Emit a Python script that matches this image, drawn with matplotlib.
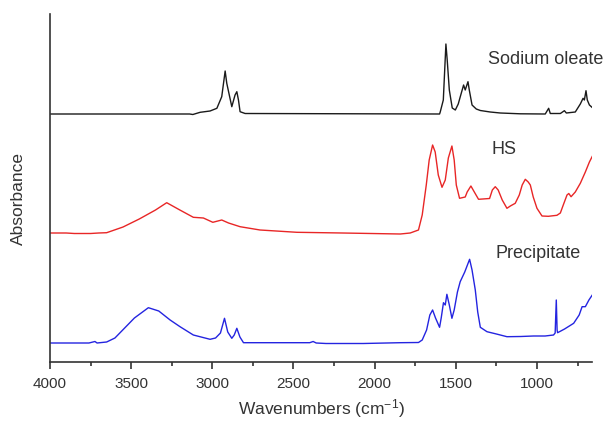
import matplotlib
matplotlib.use("Agg")
import matplotlib.pyplot as plt
from matplotlib.ticker import MultipleLocator

plt.rcParams['font.family'] = ['Liberation Sans', 'DejaVu Sans']
plt.rcParams['mathtext.fontset'] = 'custom'
plt.rcParams['mathtext.rm'] = 'Liberation Sans'
plt.rcParams['mathtext.it'] = 'Liberation Sans:italic'

# ---- data (relative absorbance, arbitrary units) ----
wn_oleate = [4000, 3140, 3120, 3075, 3014, 2972, 2942, 2921, 2911, 2880, 2860, 2849, 2839, 2829, 2798,
             1600, 1596, 1577, 1561, 1553, 1540, 1522, 1503, 1485, 1473, 1452, 1442, 1425, 1417, 1400,
             1374, 1349, 1288, 1226, 1103, 949, 928, 918, 856, 831, 819, 764, 733, 716, 708, 698, 690, 677, 661]
abs_oleate = [0, 0, -0.5, 1.7, 3, 5.7, 17.3, 43, 30.7, 7.3, 19, 22.3, 14, 2.3, 0.5,
              0, 2, 14, 70, 54, 24, 6, 4, 10, 17, 29, 24, 32.3, 24, 9,
              5, 3.5, 2, 1, 0.2, 0, 5.7, 0.5, 0.5, 3.3, 1, 2, 10, 15.7, 14, 23.3, 14, 9, 6.7]

wn_hs = [4000, 3900, 3850, 3750, 3700, 3651, 3550, 3450, 3350, 3281, 3200, 3117, 3055, 2997, 2942,
         2900, 2829, 2706, 2479, 2200, 1842, 1781, 1730, 1707, 1682, 1664, 1643, 1627, 1608, 1585,
         1565, 1546, 1524, 1510, 1497, 1477, 1442, 1430, 1407, 1386, 1360, 1292, 1275, 1257, 1239,
         1214, 1185, 1164, 1134, 1109, 1091, 1072, 1054, 1041, 1023, 1000, 969, 930, 877, 856, 838,
         815, 804, 790, 764, 733, 702, 677, 655]
abs_hs = [0, 0, -0.5, -0.5, 0, 0.3, 6, 14, 23, 30.3, 23, 15.7, 15, 10.7, 13,
          10, 6.3, 3, 0.7, 0, -1, 0, 3, 18, 48, 73, 88, 81, 58, 45.7,
          53, 75, 87, 73, 48, 34.7, 36, 41, 47, 41, 33.7, 34.5, 43, 46.3, 43,
          33, 24.7, 27, 29.7, 38, 48, 53.7, 51, 48, 36, 24.7, 17, 16.7, 17.7, 20, 28,
          38, 39.5, 36.3, 41, 49.7, 61, 71, 78]

wn_prec = [4000, 3760, 3723, 3710, 3651, 3600, 3540, 3480, 3394, 3330, 3260, 3199, 3117, 3014, 2980,
           2950, 2925, 2905, 2880, 2865, 2849, 2830, 2808, 2400, 2379, 2360, 2300, 2070, 1842, 1730,
           1707, 1680, 1660, 1643, 1625, 1600, 1590, 1576, 1565, 1555, 1540, 1524, 1510, 1490, 1473,
           1445, 1415, 1400, 1380, 1365, 1349, 1308, 1250, 1185, 1100, 1021, 950, 898, 888, 881, 876,
           873, 830, 774, 740, 722, 702, 680, 655]
abs_prec = [0, 0, 1.5, 0, 1, 5, 15, 25, 35.3, 32, 23, 16.3, 8, 3.7, 5,
            10, 24.7, 11, 4.7, 8, 14.7, 6, 0.3, 0.3, 1.5, 0, -0.5, -0.5, 0.3, 0.5,
            3, 13, 28, 33, 25, 15.7, 25, 40.3, 38, 48.7, 38, 24.7, 33, 51, 61.3,
            71, 83.7, 73, 53, 31, 15.7, 11.3, 9, 6.3, 6.5, 7, 7, 8, 10, 43, 13,
            10.3, 14, 19.7, 28, 36.3, 36.3, 43, 49]

labels = ["Sodium oleate", "HS", "Precipitate"]
offsets = [248, 129, 19]
colors = ["#1a1a1a", "#e82626", "#2424e0"]

fig = plt.figure(figsize=(6.11, 4.22), dpi=100)
ax = fig.add_axes([50/611, 1-362/422, 542/611, 348/422])

series = [(wn_oleate, abs_oleate), (wn_hs, abs_hs), (wn_prec, abs_prec)]
for (w, a), off, c in zip(series, offsets, colors):
    ax.plot(w, [v + off for v in a], color=c, lw=1.0)

ax.set_xlim(4000, 661)
ax.set_ylim(0, 348)
ax.spines['top'].set_visible(False)
ax.spines['right'].set_visible(False)
for s in ['left', 'bottom']:
    ax.spines[s].set_color('#333333')
    ax.spines[s].set_linewidth(1.2)
ax.set_yticks([])
ax.xaxis.set_major_locator(MultipleLocator(500))
ax.xaxis.set_minor_locator(MultipleLocator(250))
ax.tick_params(axis='x', which='major', direction='out', length=5, width=1.2,
               color='#333333', labelsize=11, labelcolor='#333333', pad=6)
ax.tick_params(axis='x', which='minor', direction='out', length=3, width=1.2, color='#333333')

ax.set_xlabel("Wavenumbers (cm$^{-1}$)", fontsize=12.5, color='#333333', labelpad=4)
ax.set_ylabel("Absorbance", fontsize=12.5, color='#333333')
ax.yaxis.set_label_coords(-0.045, 0.47)

ax.text(1300, 303, labels[0], fontsize=13, color='#333333', ha='left', va='center', clip_on=False)
ax.text(1201, 212, labels[1], fontsize=13, color='#333333', ha='center', va='center')
ax.text(1257, 109, labels[2], fontsize=13, color='#333333', ha='left', va='center')

fig.savefig("out.png", dpi=100)
